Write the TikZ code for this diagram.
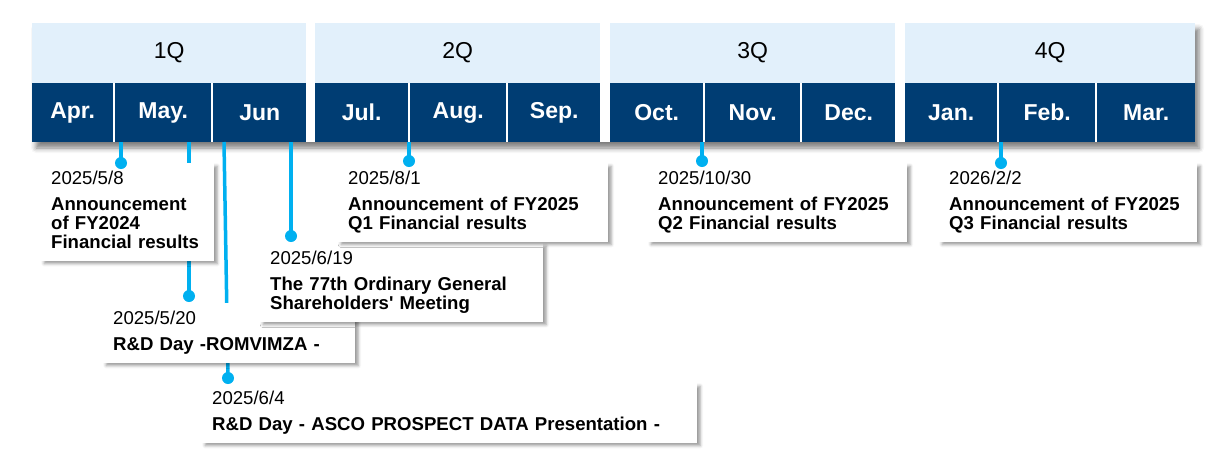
\documentclass[tikz,border=0pt]{standalone}
\usepackage{fontspec}
\setmainfont{Liberation Sans}[Ligatures=TeXOff]
\usetikzlibrary{shadows.blur}
\definecolor{qsky}{HTML}{E2F0FB}
\definecolor{mnavy}{HTML}{003D73}
\definecolor{pincyan}{HTML}{00B0F0}
\newcommand{\evtext}[2]{#1\\[7pt]\bfseries #2\vphantom{y}}

\begin{document}
\begin{tikzpicture}[x=1pt, y=-1pt,
  qcell/.style={fill=qsky, anchor=north west, inner sep=0pt, minimum height=59.5pt, font=\fontsize{23}{23}\selectfont},
  mcell/.style={fill=mnavy, text=white, anchor=north west, inner sep=0pt, minimum height=59pt, font=\fontsize{23}{23}\selectfont\bfseries},
  evbox/.style={fill=white, anchor=north west, align=left, inner xsep=10pt, inner ysep=8pt,
    font=\fontsize{18.6}{19}\selectfont,
    blur shadow={shadow xshift=3pt, shadow yshift=-3pt, shadow blur radius=3pt, shadow opacity=40}},
  pin/.style={circle, fill=pincyan, inner sep=0pt, minimum size=12pt},
  stem/.style={draw=pincyan, line width=3.5pt}]
\useasboundingbox (0,0) rectangle (1222,467);

% calendar band
\fill[white, blur shadow={shadow xshift=4pt, shadow yshift=-6pt, shadow blur radius=5pt, shadow opacity=50}]
  (32,23) rectangle (1195,142);
\foreach \name/\x/\w [count=\i] in {1Q/32/274, 2Q/315/285, 3Q/610/285, 4Q/905/290}
  \node[qcell, minimum width=\w pt] (q\i) at (\x,23) {\name};
\foreach \name/\x/\w [count=\i] in {Apr./32/81, May./115/96, Jun/213/93, Jul./315/93, Aug./410/96, Sep./508/92,
    Oct./610/93, Nov./705/95, Dec./802/93, Jan./905/92, Feb./999/96, Mar./1097/98}
  \node[mcell, minimum width=\w pt] (m\i) at (\x,83) {\name};

% stems
\foreach \i/\xa/\xb/\yb in {1/121/121/163, 2/189/189/296, 3/224/228/378, 4/291/291/236,
    5/409/409/161, 6/702/702/161, 7/1001/1001/163} {
  \coordinate (s\i) at (\xa,142);
  \coordinate (d\i) at (\xb,\yb);
  \draw[stem] (s\i) -- (d\i);
}

% events
\node[evbox, text width=153pt] (ev1) at (41,163) {\evtext{2025/5/8}{Announcement\\of FY2024\\Financial results}};
\node[evbox, text width=232pt] (ev2) at (103,303) {\evtext{2025/5/20}{R\&D Day -ROMVIMZA -}};
\node[evbox, text width=475pt] (ev3) at (202,383) {\evtext{2025/6/4}{R\&D Day - ASCO PROSPECT DATA Presentation -}};
\node[evbox, text width=263pt] (ev4) at (260,243) {\evtext{2025/6/19}{The 77th Ordinary General\\Shareholders' Meeting}};
\node[evbox, text width=250pt] (ev5) at (338,163) {\evtext{2025/8/1}{Announcement of FY2025\\Q1 Financial results}};
\node[evbox, text width=239pt] (ev6) at (648,163) {\evtext{2025/10/30}{Announcement of FY2025\\Q2 Financial results}};
\node[evbox, text width=238pt] (ev7) at (939,163) {\evtext{2026/2/2}{Announcement of FY2025\\Q3 Financial results}};

\foreach \i in {1,...,7}
  \node[pin] (p\i) at (d\i) {};
\end{tikzpicture}
\end{document}
